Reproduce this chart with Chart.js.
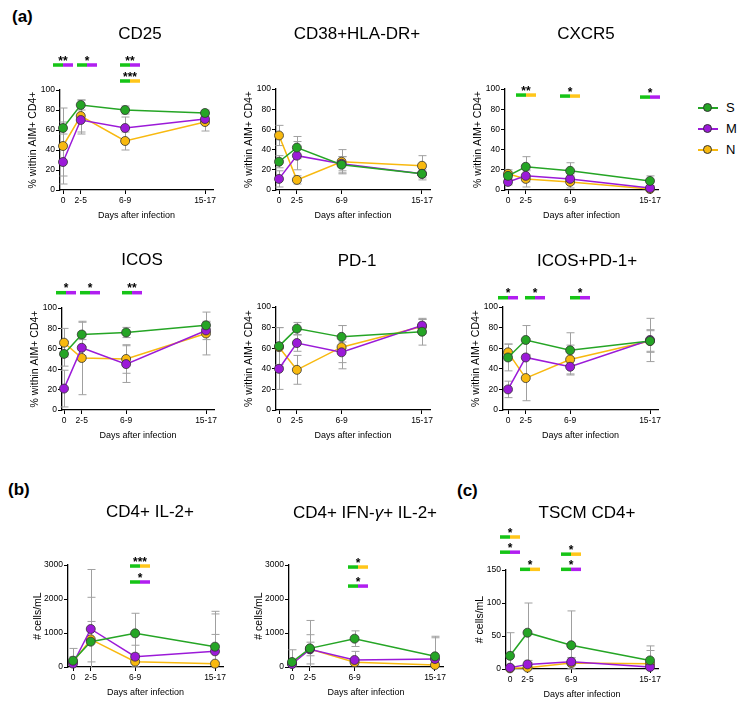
<!DOCTYPE html>
<html>
<head>
<meta charset="utf-8">
<script src="https://cdn.jsdelivr.net/npm/chart.js@4.4.1/dist/chart.umd.min.js"></script>
<style>
body { margin: 0; background: #fff; font-family: "Liberation Sans", Arial, sans-serif; }
#fig { position: relative; width: 745px; height: 702px; overflow: hidden; }
#fig canvas { position: absolute; }
.ttl { position: absolute; font-size: 17px; transform: translate(-50%, -50%); white-space: nowrap; color: #000; }
.pl { position: absolute; font-size: 17px; font-weight: bold; transform: translateY(-50%); color: #000; }
.leg { position: absolute; left: 698px; height: 14px; transform: translateY(-50%); font-size: 13px; }
.leg .ln { position: absolute; left: 0; top: 6px; width: 20px; height: 2px; }
.leg .dot { position: absolute; left: 5px; top: 2px; width: 9px; height: 9px; border-radius: 50%; border: 0.8px solid #333; box-sizing: border-box; }
.leg .tx { position: absolute; left: 28px; top: -1px; }
</style>
</head>
<body>
<div id="fig"></div>
<script>
// shared x categories (days after infection), plotted at 0, 2, 7, 16
const days = [0, 2, 7, 16];
const dayLabels = ['0', '2-5', '6-9', '15-17'];
const groups = ['S', 'M', 'N'];
const colors = ['#25a525', '#9b1ad8', '#f8b90f'];
const sigColors = { S: '#16c416', M: '#b11ef0', N: '#ffc61a' };

const pctTicks = [0, 20, 40, 60, 80, 100];
const cellTicks = [0, 1000, 2000, 3000];
const tscmTicks = [0, 50, 100, 150];

// (a) CD25
const cd25S = [62, 85, 80, 77];
const cd25M = [28, 70, 62, 71];
const cd25N = [44, 74, 49, 68];
const cd25Err = [[6, 5, 4, 3], [14, 14, 11, 5], [38, 16, 9, 9]];
const cd25Sig = [[0, 125, '**', 'M'], [2.7, 125, '*', 'M'], [7.6, 125, '**', 'M'], [7.6, 109, '***', 'N']];

// (a) CD38+HLA-DR+
const cd38S = [28, 42, 25, 16];
const cd38M = [11, 34, 26, 16];
const cd38N = [54, 10, 28, 24];
const cd38Err = [[6, 11, 8, 6], [8, 14, 7, 4], [10, 4, 12, 10]];

// (a) CXCR5
const cxcr5S = [14, 23, 19, 9];
const cxcr5M = [8, 14, 11, 2];
const cxcr5N = [16, 11, 8, 1];
const cxcr5Err = [[4, 10, 8, 5], [3, 6, 5, 2], [4, 8, 6, 1]];
const cxcr5Sig = [[2, 94, '**', 'N'], [7, 93, '*', 'N'], [16, 92, '*', 'M']];

// (a) ICOS
const icosS = [55, 74, 76, 83];
const icosM = [21, 61, 45, 78];
const icosN = [66, 51, 50, 75];
const icosErr = [[12, 12, 5, 3], [18, 8, 18, 9], [14, 36, 14, 21]];
const icosSig = [[0.2, 115, '*', 'M'], [2.9, 115, '*', 'M'], [7.7, 115, '**', 'M']];

// (a) PD-1
const pd1S = [62, 79, 71, 76];
const pd1M = [40, 65, 56, 82];
const pd1N = [61, 39, 61, 81];
const pd1Err = [[18, 6, 11, 13], [20, 8, 10, 6], [19, 14, 21, 7]];

// (a) ICOS+PD-1+
const icpdS = [51, 68, 58, 67];
const icpdM = [20, 51, 42, 68];
const icpdN = [56, 31, 49, 67];
const icpdErr = [[13, 14, 17, 11], [8, 18, 8, 21], [8, 22, 14, 10]];
const icpdSig = [[0, 109, '*', 'M'], [3, 109, '*', 'M'], [8.1, 109, '*', 'M']];

// (b) CD4+ IL-2+
const il2S = [186, 745, 990, 598];
const il2M = [100, 1118, 304, 461];
const il2N = [150, 814, 157, 98];
const il2Err = [[360, 595, 590, 1040], [100, 1750, 336, 1100], [150, 1236, 150, 860]];
const il2Sig = [[7.5, 2970, '***', 'N'], [7.5, 2500, '*', 'M']];

// (b) CD4+ IFN-g+ IL-2+
const ifnS = [147, 549, 833, 314];
const ifnM = [88, 520, 206, 235];
const ifnN = [100, 530, 137, 59];
const ifnErr = [[360, 820, 230, 590], [100, 430, 254, 625], [80, 200, 100, 60]];
const ifnSig = [[7.4, 2940, '*', 'N'], [7.4, 2380, '*', 'M']];

// (c) TSCM CD4+
const tscmS = [20, 55, 36, 13];
const tscmM = [2, 7, 11, 3];
const tscmN = [1, 2, 9, 8];
const tscmErr = [[35, 45, 52, 22], [3, 6, 6, 3], [2, 3, 8, 20]];
const tscmSig = [[0, 200, '*', 'N'], [0, 177, '*', 'M'], [2.25, 151, '*', 'N'], [7, 174, '*', 'N'], [7, 151, '*', 'M']];

const fig = document.getElementById('fig');

const errorBars = {
  id: 'errorBars',
  beforeDatasetsDraw(chart) {
    const ctx = chart.ctx, ys = chart.scales.y;
    ctx.save();
    ctx.strokeStyle = '#a0a0a0';
    ctx.lineWidth = 1;
    chart.data.datasets.forEach((ds, i) => {
      chart.getDatasetMeta(i).data.forEach((pt, j) => {
        const v = ds.data[j].y, e = ds.err[j];
        const x = Math.round(pt.x) + 0.5;
        const top = ys.getPixelForValue(v + e);
        const low = v - e;
        const bot = ys.getPixelForValue(Math.max(low, ys.min));
        ctx.beginPath();
        ctx.moveTo(x, top); ctx.lineTo(x, bot);
        ctx.moveTo(x - 4, top); ctx.lineTo(x + 4, top);
        if (low > ys.min) { ctx.moveTo(x - 4, bot); ctx.lineTo(x + 4, bot); }
        ctx.stroke();
      });
    });
    ctx.restore();
  }
};

function sigBars(items) {
  return {
    id: 'sigBars',
    afterDatasetsDraw(chart) {
      const ctx = chart.ctx, xs = chart.scales.x, ys = chart.scales.y;
      ctx.save();
      items.forEach(([x, y, stars, vs]) => {
        const px = Math.round(xs.getPixelForValue(x)), py = ys.getPixelForValue(y);
        ctx.fillStyle = sigColors.S;
        ctx.fillRect(px - 10, py - 1.75, 10, 3.5);
        ctx.fillStyle = sigColors[vs];
        ctx.fillRect(px, py - 1.75, 10, 3.5);
        ctx.fillStyle = '#000';
        ctx.font = 'bold 12px "Liberation Sans", Arial';
        ctx.textAlign = 'center';
        ctx.textBaseline = 'alphabetic';
        ctx.fillText(stars, px, py - 0.5);
      });
      ctx.restore();
    }
  };
}

function plot(p) {
  const padTop = 60, yW = 50, xH = 34, padR = 10;
  const unit = (p.p16 - p.p0) / 16;
  const right = p.p16 + 8;
  const w = right - p.l + yW + padR;
  const h = p.b - p.t + padTop + xH;
  const cv = document.createElement('canvas');
  cv.width = w; cv.height = h;
  cv.style.left = (p.l - yW) + 'px';
  cv.style.top = (p.t - padTop) + 'px';
  cv.style.width = w + 'px';
  cv.style.height = h + 'px';
  fig.appendChild(cv);
  const tickFont = { family: '"Liberation Sans", Arial', size: 8.5 };
  new Chart(cv, {
    type: 'line',
    data: {
      datasets: [p.S, p.M, p.N].map((vals, i) => ({
        label: groups[i],
        data: vals.map((v, j) => ({ x: days[j], y: v })),
        err: p.err[i],
        borderColor: colors[i],
        backgroundColor: colors[i],
        borderWidth: 1.5,
        pointRadius: 4.5,
        pointBorderWidth: 0.8,
        pointBorderColor: '#333',
        pointBackgroundColor: colors[i],
        tension: 0,
        clip: false
      }))
    },
    options: {
      responsive: false,
      animation: false,
      events: [],
      layout: { padding: { top: padTop, right: padR, left: 0, bottom: 0 } },
      plugins: { legend: { display: false }, tooltip: { enabled: false } },
      scales: {
        x: {
          type: 'linear',
          min: -(p.p0 - p.l) / unit,
          max: 16 + (right - p.p16) / unit,
          afterBuildTicks: s => { s.ticks = days.map(v => ({ value: v })); },
          afterFit: s => { s.height = xH; s.paddingLeft = 0; s.paddingRight = 0; },
          ticks: {
            autoSkip: false, maxRotation: 0, padding: 2, color: '#000', font: tickFont,
            callback: v => dayLabels[days.indexOf(v)]
          },
          grid: { drawOnChartArea: false, drawTicks: true, tickLength: 4, color: '#000', lineWidth: 1 },
          border: { display: true, color: '#000', width: 1.3 },
          title: {
            display: true, text: 'Days after infection', color: '#000',
            font: { family: '"Liberation Sans", Arial', size: 9 }, padding: { top: 0, bottom: 3 }
          }
        },
        y: {
          min: 0,
          max: p.yMax,
          afterBuildTicks: s => { s.ticks = p.yTicks.map(v => ({ value: v })); },
          afterFit: s => { s.width = yW; s.paddingTop = 0; s.paddingBottom = 0; },
          ticks: { padding: 1, color: '#000', font: tickFont, callback: v => String(v) },
          grid: { drawOnChartArea: false, drawTicks: true, tickLength: 4, color: '#000', lineWidth: 1 },
          border: { display: true, color: '#000', width: 1.3 },
          title: {
            display: true, text: p.yTitle, color: '#000',
            font: { family: '"Liberation Sans", Arial', size: 10.5 },
            padding: { top: yW - p.yOff - 6, bottom: 0 }
          }
        }
      }
    },
    plugins: [errorBars, sigBars(p.sig || [])]
  });
}

const pctTitle = '% within AIM+ CD4+';
const cellTitle = '# cells/mL';

plot({ l: 60, t: 90, b: 190, p0: 63, p16: 205, S: cd25S, M: cd25M, N: cd25N, err: cd25Err, sig: cd25Sig, yMax: 100, yTicks: pctTicks, yTitle: pctTitle, yOff: 27 });
plot({ l: 276, t: 89, b: 190, p0: 279, p16: 422, S: cd38S, M: cd38M, N: cd38N, err: cd38Err, yMax: 100, yTicks: pctTicks, yTitle: pctTitle, yOff: 27 });
plot({ l: 505, t: 89, b: 190, p0: 508, p16: 650, S: cxcr5S, M: cxcr5M, N: cxcr5N, err: cxcr5Err, sig: cxcr5Sig, yMax: 100, yTicks: pctTicks, yTitle: pctTitle, yOff: 27 });
plot({ l: 62, t: 308, b: 410, p0: 64, p16: 206, S: icosS, M: icosM, N: icosN, err: icosErr, sig: icosSig, yMax: 100, yTicks: pctTicks, yTitle: pctTitle, yOff: 27 });
plot({ l: 276, t: 307, b: 410, p0: 279, p16: 422, S: pd1S, M: pd1M, N: pd1N, err: pd1Err, yMax: 100, yTicks: pctTicks, yTitle: pctTitle, yOff: 27 });
plot({ l: 503, t: 307, b: 410, p0: 508, p16: 650, S: icpdS, M: icpdM, N: icpdN, err: icpdErr, sig: icpdSig, yMax: 100, yTicks: pctTicks, yTitle: pctTitle, yOff: 27 });
plot({ l: 68, t: 565, b: 667, p0: 73, p16: 215, S: il2S, M: il2M, N: il2N, err: il2Err, sig: il2Sig, yMax: 3000, yTicks: cellTicks, yTitle: cellTitle, yOff: 30 });
plot({ l: 289, t: 565, b: 667, p0: 292, p16: 435, S: ifnS, M: ifnM, N: ifnN, err: ifnErr, sig: ifnSig, yMax: 3000, yTicks: cellTicks, yTitle: cellTitle, yOff: 30 });
plot({ l: 506, t: 570, b: 669, p0: 510, p16: 650, S: tscmS, M: tscmM, N: tscmN, err: tscmErr, sig: tscmSig, yMax: 150, yTicks: tscmTicks, yTitle: cellTitle, yOff: 26 });

// titles, panel letters and legend as page text
const titles = [
  ['CD25', 140, 34], ['CD38+HLA-DR+', 357, 34], ['CXCR5', 586, 34],
  ['ICOS', 142, 260], ['PD-1', 357, 261], ['ICOS+PD-1+', 587, 261],
  ['CD4+ IL-2+', 150, 512], ['CD4+ IFN-<i>γ</i>+ IL-2+', 365, 513], ['TSCM CD4+', 587, 513]
];
titles.forEach(([t, x, y]) => {
  const d = document.createElement('div');
  d.className = 'ttl';
  d.innerHTML = t;
  d.style.left = x + 'px'; d.style.top = y + 'px';
  fig.appendChild(d);
});
[['(a)', 12, 17], ['(b)', 8, 490], ['(c)', 457, 491]].forEach(([t, x, y]) => {
  const d = document.createElement('div');
  d.className = 'pl';
  d.textContent = t;
  d.style.left = x + 'px'; d.style.top = y + 'px';
  fig.appendChild(d);
});
[108, 129, 150].forEach((y, i) => {
  const d = document.createElement('div');
  d.className = 'leg';
  d.style.top = y + 'px';
  d.innerHTML = `<div class="ln" style="background:${colors[i]}"></div><div class="dot" style="background:${colors[i]}"></div><div class="tx">${groups[i]}</div>`;
  fig.appendChild(d);
});
</script>
</body>
</html>
